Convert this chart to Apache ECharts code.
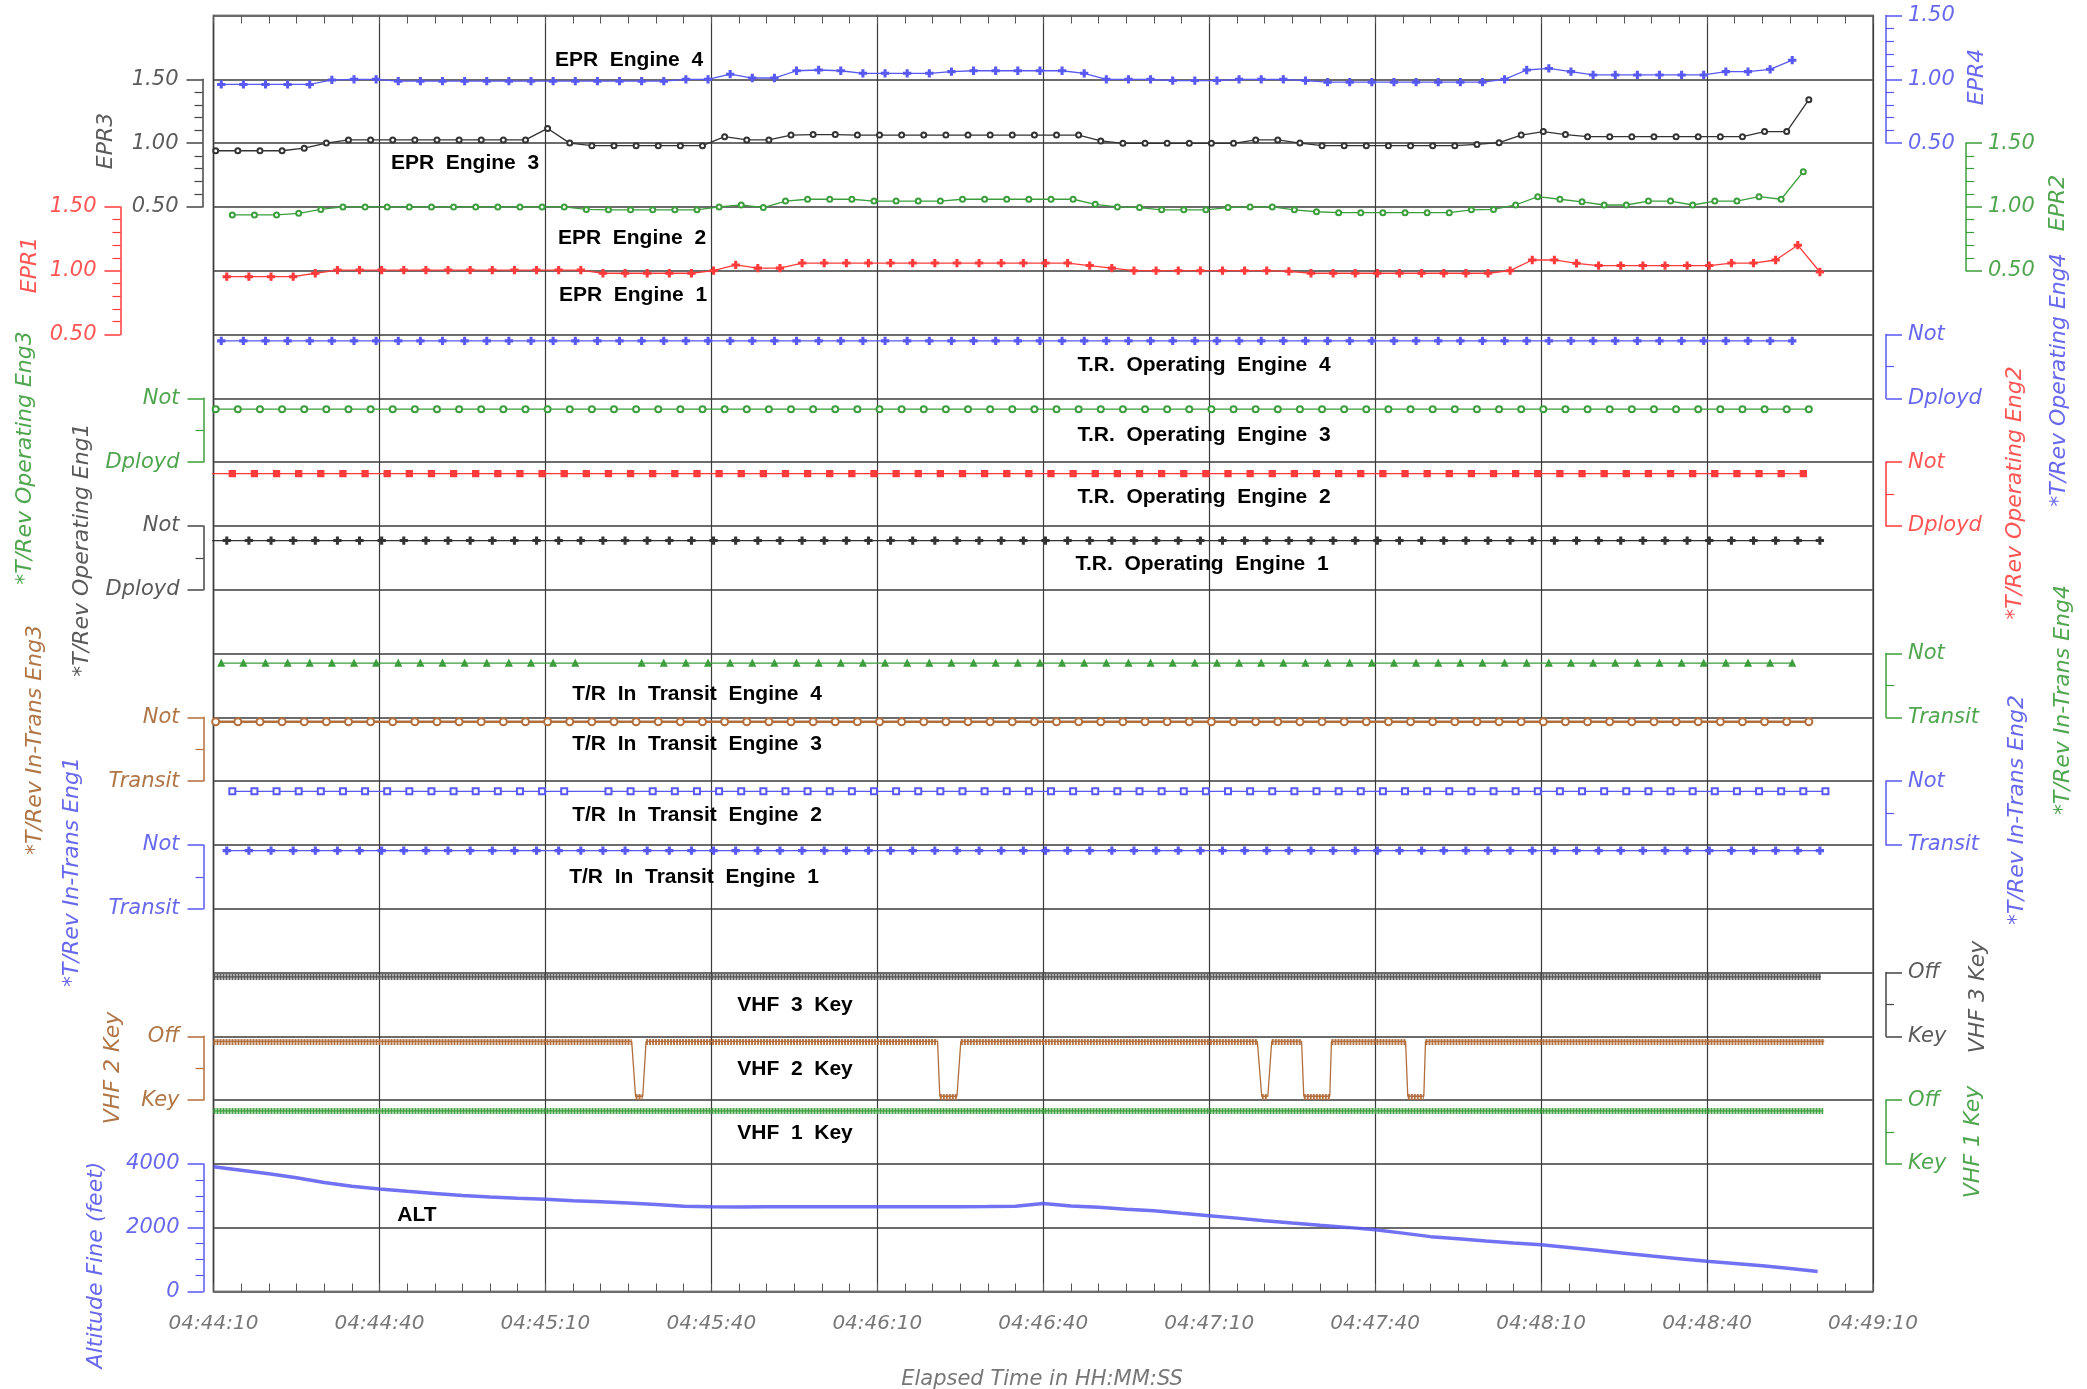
<!DOCTYPE html>
<html><head><meta charset="utf-8">
<script src="https://cdn.jsdelivr.net/npm/echarts@6/dist/echarts.min.js"></script>
<style>html,body{margin:0;padding:0;background:#fff}#c{width:2087px;height:1389px}</style>
</head><body><div id="c"></div>
<script>
// ================= DATA =================
// x axis: seconds elapsed since 04:44:10
const timeTickLabels = ['04:44:10','04:44:40','04:45:10','04:45:40','04:46:10','04:46:40','04:47:10','04:47:40','04:48:10','04:48:40','04:49:10'];

// 4-second sample schedule (seconds) and each parameter's phase offset within it
const sampleTimes = [0,4,8,12,16,20,24,28,32,36,40,44,48,52,56,60,64,68,72,76,80,84,88,92,96,100,104,108,112,116,120,124,128,132,136,140,144,148,152,156,160,164,168,172,176,180,184,188,192,196,200,204,208,212,216,220,224,228,232,236,240,244,248,252,256,260,264,268,272,276,280,284,288,292];
const phaseEpr4 = 1.4, phaseEpr3 = 0.4, phaseEpr2 = 3.4, phaseEpr1 = 2.4;
const phaseOp4 = 1.4, phaseOp3 = 0.4, phaseOp2 = -0.6, phaseOp1 = -1.6;
const phaseTr4 = 1.4, phaseTr3 = 0.4, phaseTr2 = 3.4, phaseTr1 = 2.4;

// EPR values
const epr4 = [0.96,0.96,0.96,0.96,0.96,0.995,1.0,1.0,0.985,0.985,0.985,0.985,0.985,0.985,0.985,0.985,0.985,0.985,0.985,0.985,0.985,1.0,1.0,
  1.04,1.01,1.01,1.067,1.073,1.067,1.047,1.047,1.047,1.047,1.06,1.067,1.067,1.067,1.067,1.067,
  1.047,1.0,1.0,1.0,0.99,0.99,0.99,1.0,1.0,1.0,0.99,
  0.978,0.978,0.978,0.978,0.978,0.978,0.978,0.978,
  1.0,1.073,1.085,1.06,1.034,1.034,1.034,1.034,1.034,1.034,1.06,1.06,1.078,1.15];
const epr3 = [0.94,0.94,0.94,0.94,0.96,1.0,1.025,1.025,1.025,1.025,1.025,1.025,1.025,1.025,1.025,1.115,1.0,0.98,0.98,0.98,0.98,0.98,0.98,
  1.05,1.025,1.025,1.063,1.067,1.067,1.063,1.063,1.063,1.063,1.063,1.063,1.063,1.063,1.063,1.063,1.063,
  1.017,0.998,0.998,0.998,0.998,0.998,0.998,1.025,1.025,1.0,
  0.98,0.98,0.98,0.98,0.98,0.98,0.98,0.99,1.003,1.063,1.09,1.067,
  1.05,1.05,1.05,1.05,1.05,1.05,1.05,1.05,1.09,1.09,1.34];
const epr2 = [0.937,0.937,0.937,0.95,0.98,1.0,1.0,1.0,1.0,1.0,1.0,1.0,1.0,1.0,1.0,1.0,0.98,0.977,0.977,0.977,0.977,0.977,
  1.0,1.015,0.995,1.046,1.06,1.06,1.06,1.046,1.046,1.046,1.046,1.06,1.06,1.06,1.06,1.06,1.06,
  1.02,1.0,0.995,0.977,0.977,0.977,0.995,1.0,1.0,0.977,0.962,
  0.955,0.955,0.955,0.955,0.955,0.955,0.977,0.98,1.015,1.08,1.06,1.04,1.015,1.015,1.046,1.046,1.015,1.046,1.046,1.08,1.06,1.276];
const epr1 = [0.953,0.953,0.953,0.953,0.98,1.005,1.005,1.005,1.005,1.005,1.005,1.005,1.005,1.005,1.005,1.005,1.005,
  0.98,0.98,0.98,0.98,0.98,1.0,1.045,1.02,1.02,
  1.06,1.06,1.06,1.06,1.06,1.06,1.06,1.06,1.06,1.06,1.06,1.06,1.06,
  1.04,1.02,1.0,1.0,1.0,1.0,1.0,1.0,1.0,0.995,
  0.98,0.98,0.98,0.98,0.98,0.98,0.98,0.98,0.98,
  1.0,1.084,1.084,1.058,1.04,1.04,1.04,1.04,1.04,1.04,1.06,1.06,1.084,1.2,0.99];

// Thrust-reverser discrete states (1 = Not, 0 = Dployd / Transit); null = missing sample
const opEng4 = [0.9,0.9,0.9,0.9,0.9,0.9,0.9,0.9,0.9,0.9,0.9,0.9,0.9,0.9,0.9,0.9,0.9,0.9,0.9,0.9,0.9,0.9,0.9,0.9,0.9,0.9,0.9,0.9,0.9,0.9,0.9,0.9,0.9,0.9,0.9,0.9,0.9,0.9,0.9,0.9,0.9,0.9,0.9,0.9,0.9,0.9,0.9,0.9,0.9,0.9,0.9,0.9,0.9,0.9,0.9,0.9,0.9,0.9,0.9,0.9,0.9,0.9,0.9,0.9,0.9,0.9,0.9,0.9,0.9,0.9,0.9,0.9];
const opEng3 = [0.83,0.83,0.83,0.83,0.83,0.83,0.83,0.83,0.83,0.83,0.83,0.83,0.83,0.83,0.83,0.83,0.83,0.83,0.83,0.83,0.83,0.83,0.83,0.83,0.83,0.83,0.83,0.83,0.83,0.83,0.83,0.83,0.83,0.83,0.83,0.83,0.83,0.83,0.83,0.83,0.83,0.83,0.83,0.83,0.83,0.83,0.83,0.83,0.83,0.83,0.83,0.83,0.83,0.83,0.83,0.83,0.83,0.83,0.83,0.83,0.83,0.83,0.83,0.83,0.83,0.83,0.83,0.83,0.83,0.83,0.83,0.83,0.83];
const opEng2 = [0.82,0.82,0.82,0.82,0.82,0.82,0.82,0.82,0.82,0.82,0.82,0.82,0.82,0.82,0.82,0.82,0.82,0.82,0.82,0.82,0.82,0.82,0.82,0.82,0.82,0.82,0.82,0.82,0.82,0.82,0.82,0.82,0.82,0.82,0.82,0.82,0.82,0.82,0.82,0.82,0.82,0.82,0.82,0.82,0.82,0.82,0.82,0.82,0.82,0.82,0.82,0.82,0.82,0.82,0.82,0.82,0.82,0.82,0.82,0.82,0.82,0.82,0.82,0.82,0.82,0.82,0.82,0.82,0.82,0.82,0.82,0.82,0.82];
const opEng1 = [0.77,0.77,0.77,0.77,0.77,0.77,0.77,0.77,0.77,0.77,0.77,0.77,0.77,0.77,0.77,0.77,0.77,0.77,0.77,0.77,0.77,0.77,0.77,0.77,0.77,0.77,0.77,0.77,0.77,0.77,0.77,0.77,0.77,0.77,0.77,0.77,0.77,0.77,0.77,0.77,0.77,0.77,0.77,0.77,0.77,0.77,0.77,0.77,0.77,0.77,0.77,0.77,0.77,0.77,0.77,0.77,0.77,0.77,0.77,0.77,0.77,0.77,0.77,0.77,0.77,0.77,0.77,0.77,0.77,0.77,0.77,0.77,0.77,0.77];
const trEng4 = [0.85,0.85,0.85,0.85,0.85,0.85,0.85,0.85,0.85,0.85,0.85,0.85,0.85,0.85,0.85,0.85,0.85,null,null,0.85,0.85,0.85,0.85,0.85,0.85,0.85,0.85,0.85,0.85,0.85,0.85,0.85,0.85,0.85,0.85,0.85,0.85,0.85,0.85,0.85,0.85,0.85,0.85,0.85,0.85,0.85,0.85,0.85,0.85,0.85,0.85,0.85,0.85,0.85,0.85,0.85,0.85,0.85,0.85,0.85,0.85,0.85,0.85,0.85,0.85,0.85,0.85,0.85,0.85,0.85,0.85,0.85];
const trEng3 = [0.93,0.93,0.93,0.93,0.93,0.93,0.93,0.93,0.93,0.93,0.93,0.93,0.93,0.93,0.93,0.93,0.93,0.93,0.93,0.93,0.93,0.93,0.93,0.93,0.93,0.93,0.93,0.93,0.93,0.93,0.93,0.93,0.93,0.93,0.93,0.93,0.93,0.93,0.93,0.93,0.93,0.93,0.93,0.93,0.93,0.93,0.93,0.93,0.93,0.93,0.93,0.93,0.93,0.93,0.93,0.93,0.93,0.93,0.93,0.93,0.93,0.93,0.93,0.93,0.93,0.93,0.93,0.93,0.93,0.93,0.93,0.93,0.93];
const trEng2 = [0.84,0.84,0.84,0.84,0.84,0.84,0.84,0.84,0.84,0.84,0.84,0.84,0.84,0.84,0.84,0.84,null,0.84,0.84,0.84,0.84,0.84,0.84,0.84,0.84,0.84,0.84,0.84,0.84,0.84,0.84,0.84,0.84,0.84,0.84,0.84,0.84,0.84,0.84,0.84,0.84,0.84,0.84,0.84,0.84,0.84,0.84,0.84,0.84,0.84,0.84,0.84,0.84,0.84,0.84,0.84,0.84,0.84,0.84,0.84,0.84,0.84,0.84,0.84,0.84,0.84,0.84,0.84,0.84,0.84,0.84,0.84,0.84];
const trEng1 = [0.91,0.91,0.91,0.91,0.91,0.91,0.91,0.91,0.91,0.91,0.91,0.91,0.91,0.91,0.91,0.91,0.91,0.91,0.91,0.91,0.91,0.91,0.91,0.91,0.91,0.91,0.91,0.91,0.91,0.91,0.91,0.91,0.91,0.91,0.91,0.91,0.91,0.91,0.91,0.91,0.91,0.91,0.91,0.91,0.91,0.91,0.91,0.91,0.91,0.91,0.91,0.91,0.91,0.91,0.91,0.91,0.91,0.91,0.91,0.91,0.91,0.91,0.91,0.91,0.91,0.91,0.91,0.91,0.91,0.91,0.91,0.91,0.91];

// VHF key states as intervals [start s, end s, level] (1 = Off, 0 = Key)
const vhf3Intervals = [[0, 290.6, 0.93]];
const vhf2Intervals = [[0,75.6,0.92],[76.3,77.6,0.06],[78.2,130.9,0.92],[131.3,134.4,0.06],[135.1,188.7,0.92],[189.5,190.6,0.06],
  [191.3,196.7,0.92],[197.1,201.8,0.06],[202.1,215.5,0.92],[215.9,218.8,0.06],[219.1,291.2,0.92]];
const vhf1Intervals = [[0, 291, 0.83]];

// Altitude fine (feet), read every 5 s
const altTimes = [0,5,10,15,20,25,30,35,40,45,50,55,60,65,70,75,80,85,90,95,100,105,110,115,120,125,130,135,140,145,150,155,160,165,170,175,180,185,190,195,200,205,210,215,220,225,230,235,240,245,250,255,260,265,270,275,280,285,290];
const altFeet = [3910,3800,3690,3565,3420,3300,3210,3140,3075,3010,2965,2925,2890,2845,2815,2775,2725,2670,2655,2650,2655,2660,2660,2660,2660,2660,2660,2660,2665,2675,2760,2680,2640,2580,2530,2450,2375,2300,2220,2145,2075,2010,1935,1830,1720,1650,1580,1520,1465,1380,1290,1200,1110,1030,950,880,810,720,630];

// ================= STYLE / LAYOUT =================
const BLUE='#5858f2', RED='#ff3a3a', GREEN='#3c9e3c', BLACK='#2e2e2e', BROWN='#b26e3c';
const TBLUE='#6868ee', TRED='#ff5555', TGREEN='#4fa64f', TGRAY='#5a5a5a', TBROWN='#b07646';
const FONT='"DejaVu Sans", sans-serif';
const PLOT={left:213.5, top:15.5, width:1659.5, height:1276};
const ROW_H=PLOT.height/20;

const axesLayout = [
  {key:'epr4', side:'right', offset:13, row:0, rows:2, kind:'dec', color:BLUE, text:TBLUE},
  {key:'epr3', side:'left', offset:11, row:1, rows:2, kind:'dec', color:'#444', text:TGRAY},
  {key:'epr2', side:'right', offset:93, row:2, rows:2, kind:'dec', color:GREEN, text:TGREEN},
  {key:'epr1', side:'left', offset:93, row:3, rows:2, kind:'dec', color:RED, text:TRED},
  {key:'op4', side:'right', offset:13, row:5, rows:1, kind:['Dployd','Not'], color:BLUE, text:TBLUE},
  {key:'op3', side:'left', offset:10, row:6, rows:1, kind:['Dployd','Not'], color:GREEN, text:TGREEN},
  {key:'op2', side:'right', offset:13, row:7, rows:1, kind:['Dployd','Not'], color:RED, text:TRED},
  {key:'op1', side:'left', offset:10, row:8, rows:1, kind:['Dployd','Not'], color:'#444', text:TGRAY},
  {key:'tr4', side:'right', offset:13, row:10, rows:1, kind:['Transit','Not'], color:GREEN, text:TGREEN},
  {key:'tr3', side:'left', offset:10, row:11, rows:1, kind:['Transit','Not'], color:BROWN, text:TBROWN},
  {key:'tr2', side:'right', offset:13, row:12, rows:1, kind:['Transit','Not'], color:BLUE, text:TBLUE},
  {key:'tr1', side:'left', offset:10, row:13, rows:1, kind:['Transit','Not'], color:BLUE, text:TBLUE},
  {key:'vhf3', side:'right', offset:13, row:15, rows:1, kind:['Key','Off'], color:'#444', text:TGRAY},
  {key:'vhf2', side:'left', offset:10, row:16, rows:1, kind:['Key','Off'], color:BROWN, text:TBROWN},
  {key:'vhf1', side:'right', offset:13, row:17, rows:1, kind:['Key','Off'], color:GREEN, text:TGREEN},
  {key:'alt', side:'left', offset:10, row:18, rows:2, kind:'alt', color:BLUE, text:TBLUE}
];

const grids=[Object.assign({show:true, borderColor:'#8a8a8a', borderWidth:2, outerBoundsMode:'none'}, PLOT)];
const xAxes=[
  {gridIndex:0, type:'value', min:0, max:300, interval:30, position:'bottom',
   axisLine:{show:false, onZero:false}, axisTick:{show:true, inside:true, length:8, lineStyle:{color:'#555'}},
   minorTick:{show:true, splitNumber:6, length:8, lineStyle:{color:'#555', width:1}},
   splitLine:{show:true, lineStyle:{color:'#3a3a3a', width:1.2}},
   axisLabel:{formatter:v=>timeTickLabels[Math.round(v/30)], margin:22, color:'#777', fontFamily:FONT, fontStyle:'italic', fontWeight:200, fontSize:20}},
  {gridIndex:0, type:'value', min:0, max:300, interval:30, position:'top',
   axisLine:{show:false, onZero:false}, axisTick:{show:true, inside:true, length:8, lineStyle:{color:'#555'}},
   minorTick:{show:true, splitNumber:6, length:8, lineStyle:{color:'#555', width:1}},
   splitLine:{show:false}, axisLabel:{show:false}}
];
const yAxes=[
  {gridIndex:0, type:'value', min:0, max:20, interval:1, axisLine:{show:false, onZero:false}, axisTick:{show:false}, axisLabel:{show:false},
   splitLine:{show:true, lineStyle:{color:'#6c6c6c', width:2}}}
];
const axisIdx={};
axesLayout.forEach((L,j)=>{
  const g=j+1;
  grids.push({left:PLOT.left, width:PLOT.width, top:PLOT.top+ROW_H*L.row, height:ROW_H*L.rows, outerBoundsMode:'none'});
  xAxes.push({gridIndex:g, type:'value', min:0, max:300, show:false, axisLine:{onZero:false}});
  let min=0,max=1,interval=1,minor=2,fmt;
  if(L.kind==='dec'){min=0.5;max=1.5;interval=0.5;minor=5;fmt=v=>v.toFixed(2);}
  else if(L.kind==='alt'){min=0;max=4000;interval=2000;minor=4;fmt=v=>String(v);}
  else {const lab=L.kind; fmt=v=>(v>=0.99?lab[1]:(v<=0.01?lab[0]:''));}
  yAxes.push({gridIndex:g, type:'value', position:L.side, offset:L.offset, min, max, interval,
    axisLine:{show:true, onZero:false, lineStyle:{color:L.color, width:1.5}},
    axisTick:{show:true, length:16, lineStyle:{color:L.color, width:1.5}},
    minorTick:{show:true, splitNumber:minor, length:8, lineStyle:{color:L.color, width:1.2}},
    splitLine:{show:false},
    axisLabel:{show:true, margin:(L.side==='left'?24:22), color:L.text, fontFamily:FONT, fontStyle:'italic', fontWeight:200, fontSize:21, formatter:fmt, showMinLabel:true, showMaxLabel:true}});
  axisIdx[L.key]={x:j+2, y:j+1};
});

function pair(times, phase, values){ return values.map((v,i)=>[times[i]+phase, v]); }
const PLUS='path://M3,0H5V3H8V5H5V8H3V5H0V3H3Z';

function sampled(key, data, color, symbol, size, width){
  return {type:'line', xAxisIndex:axisIdx[key].x, yAxisIndex:axisIdx[key].y, data, connectNulls:true,
    symbol, symbolSize:size, showSymbol:true, animation:false, silent:true,
    itemStyle:{color, borderColor:color, borderWidth:1.3},
    lineStyle:{color, width:width||1.3}, z:3};
}
const series=[
  sampled('epr4', pair(sampleTimes,phaseEpr4,epr4), BLUE, PLUS, 7),
  sampled('epr3', pair(sampleTimes,phaseEpr3,epr3), '#333', 'emptyCircle', 5),
  sampled('epr2', pair(sampleTimes,phaseEpr2,epr2), GREEN, 'emptyCircle', 5),
  sampled('epr1', pair(sampleTimes,phaseEpr1,epr1), RED, PLUS, 7),
  sampled('op4', pair(sampleTimes,phaseOp4,opEng4), BLUE, PLUS, 7),
  sampled('op3', pair(sampleTimes,phaseOp3,opEng3), GREEN, 'emptyCircle', 6),
  sampled('op2', pair(sampleTimes,phaseOp2,opEng2), RED, 'rect', 6),
  sampled('op1', pair(sampleTimes,phaseOp1,opEng1), '#333', PLUS, 7),
  sampled('tr4', pair(sampleTimes,phaseTr4,trEng4), GREEN, 'triangle', 6),
  sampled('tr3', pair(sampleTimes,phaseTr3,trEng3), BROWN, 'emptyCircle', 7, 2.6),
  sampled('tr2', pair(sampleTimes,phaseTr2,trEng2), BLUE, 'emptyRect', 6),
  sampled('tr1', pair(sampleTimes,phaseTr1,trEng1), BLUE, PLUS, 7)
];
function vhf(key, intervals, color){
  series.push({type:'line', xAxisIndex:axisIdx[key].x, yAxisIndex:axisIdx[key].y, showSymbol:false, symbol:'none', animation:false, silent:true,
    data:intervals.flatMap(iv=>[[iv[0],iv[2]],[iv[1],iv[2]]]), lineStyle:{color, width:1.3}, z:3});
  series.push({type:'lines', coordinateSystem:'cartesian2d', xAxisIndex:axisIdx[key].x, yAxisIndex:axisIdx[key].y, animation:false, silent:true,
    data:intervals.map(iv=>({coords:[[iv[0],iv[2]],[iv[1],iv[2]]]})), lineStyle:{color, width:6, type:[2,1], opacity:0.95}, z:4});
}
vhf('vhf3', vhf3Intervals, '#555');
vhf('vhf2', vhf2Intervals, BROWN);
vhf('vhf1', vhf1Intervals, GREEN);
series.push({type:'line', xAxisIndex:axisIdx.alt.x, yAxisIndex:axisIdx.alt.y, data:pair(altTimes,0,altFeet), showSymbol:false, symbol:'none',
  animation:false, silent:true, lineStyle:{color:BLUE, width:3.5, opacity:0.85}, z:3});

// ----- texts -----
const graphics=[];
function txt(text,x,y,opts){
  const o=opts||{};
  graphics.push({type:'text', x, y, rotation:o.rot||0, silent:true, z:10,
    style:{text, fill:o.color||'#000', font:o.font||('bold 21px "Liberation Sans", Arial, sans-serif'),
      textAlign:'center', textVerticalAlign:'middle', align:'center', verticalAlign:'middle'}});
}
const inner=[['EPR  Engine  4',629,60],['EPR  Engine  3',465,163],['EPR  Engine  2',632,238],['EPR  Engine  1',633,295],
  ['T.R.  Operating  Engine  4',1204,365],['T.R.  Operating  Engine  3',1204,435],['T.R.  Operating  Engine  2',1204,497],['T.R.  Operating  Engine  1',1202,564],
  ['T/R  In  Transit  Engine  4',697,694],['T/R  In  Transit  Engine  3',697,744],['T/R  In  Transit  Engine  2',697,815],['T/R  In  Transit  Engine  1',694,877],
  ['VHF  3  Key',795,1005],['VHF  2  Key',795,1069],['VHF  1  Key',795,1133],['ALT',417,1215]];
inner.forEach(t=>txt(t[0],t[1],t[2]));
const NF='italic 200 22px "DejaVu Sans", sans-serif';
const names=[['EPR3',106,141,TGRAY],['EPR1',30,265,TRED],['*T/Rev Operating Eng3',25,458,TGREEN],['*T/Rev Operating Eng1',82,550,TGRAY],
  ['*T/Rev In-Trans Eng3',35,740,TBROWN],['*T/Rev In-Trans Eng1',72,872,TBLUE],['VHF 2 Key',113,1068,TBROWN],['Altitude Fine (feet)',96,1265,TBLUE],
  ['EPR4',1977,77,TBLUE],['EPR2',2058,203,TGREEN],['*T/Rev Operating Eng4',2059,380,TBLUE],['*T/Rev Operating Eng2',2015,493,TRED],
  ['*T/Rev In-Trans Eng4',2063,700,TGREEN],['*T/Rev In-Trans Eng2',2017,810,TBLUE],['VHF 3 Key',1978,997,TGRAY],['VHF 1 Key',1973,1142,TGREEN]];
names.forEach(n=>txt(n[0],n[1],n[2],{rot:Math.PI/2,color:n[3],font:NF}));
txt('Elapsed Time in HH:MM:SS',1042,1380,{color:'#777',font:'italic 200 21px "DejaVu Sans", sans-serif'});

const chart=echarts.init(document.getElementById('c'),null,{renderer:'canvas'});
chart.setOption({animation:false, backgroundColor:'#fff', grid:grids, xAxis:xAxes, yAxis:yAxes, series, graphic:graphics});
</script></body></html>
